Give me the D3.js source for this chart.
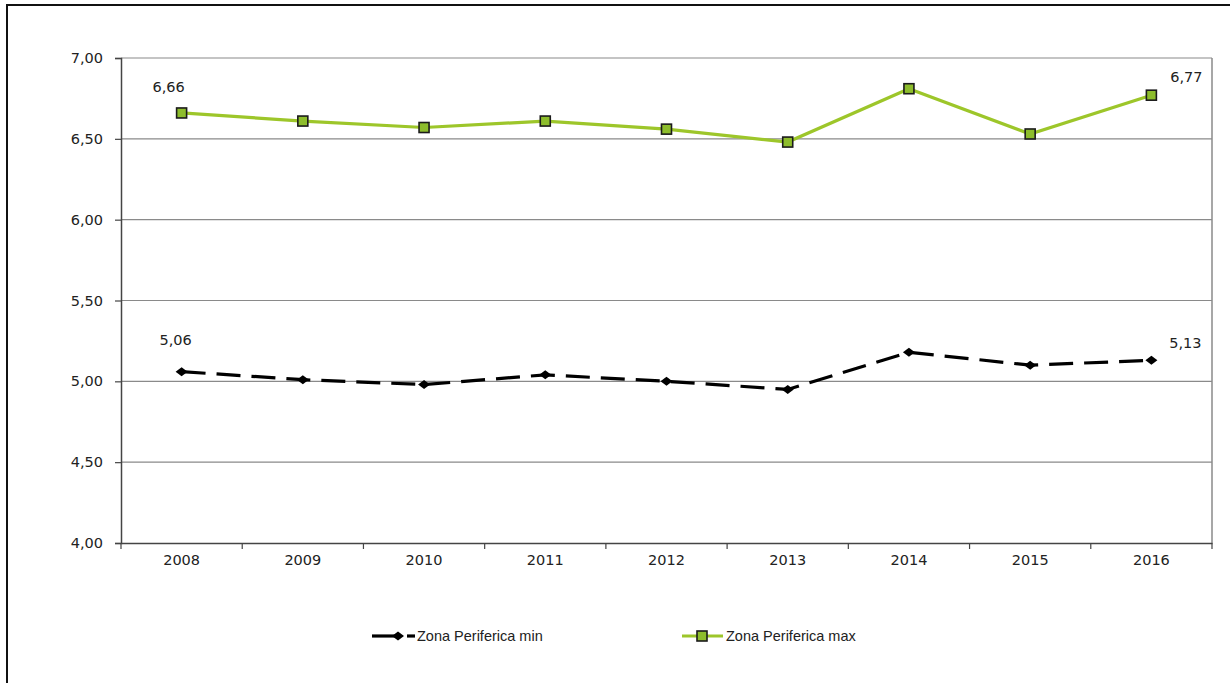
<!DOCTYPE html>
<html>
<head>
<meta charset="utf-8">
<script src="https://cdn.jsdelivr.net/npm/d3@7"></script>
<style>
  body { margin: 0; background: #fff; }
  svg { display: block; }
  .tick-label { font-family: "DejaVu Sans", Verdana, sans-serif; font-size: 14.5px; fill: #222; }
  .legend-text { font-family: "Liberation Sans", Arial, sans-serif; font-size: 14.5px; fill: #222; }
</style>
</head>
<body>
<svg id="chart" width="1230" height="683"></svg>
<script>
// chart data
const years = ["2008", "2009", "2010", "2011", "2012", "2013", "2014", "2015", "2016"];
const zonaMin = [5.06, 5.01, 4.98, 5.04, 5.00, 4.95, 5.18, 5.10, 5.13];
const zonaMax = [6.66, 6.61, 6.57, 6.61, 6.56, 6.48, 6.81, 6.53, 6.77];
const yTicks = [4.00, 4.50, 5.00, 5.50, 6.00, 6.50, 7.00];
const seriesNames = ["Zona Periferica min", "Zona Periferica max"];

const fmt = v => v.toFixed(2).replace(".", ",");

const svg = d3.select("#chart");
const plot = { left: 121, right: 1212, top: 58, bottom: 543 };

const x = d3.scaleBand().domain(years).range([plot.left, plot.right]);
const y = d3.scaleLinear().domain([4, 7]).range([plot.bottom, plot.top]);

// outer frame (runs off the right and bottom edges)
svg.append("rect")
  .attr("x", 7).attr("y", 5)
  .attr("width", 1260).attr("height", 720)
  .attr("fill", "none")
  .attr("stroke", "#111")
  .attr("stroke-width", 2);

// gridlines
svg.append("g")
  .selectAll("line")
  .data(yTicks.slice(1))
  .join("line")
  .attr("x1", plot.left).attr("x2", plot.right)
  .attr("y1", d => y(d)).attr("y2", d => y(d))
  .attr("stroke", "#8a8a8a")
  .attr("stroke-width", 1.2);

// right border of plot area
svg.append("line")
  .attr("x1", plot.right).attr("x2", plot.right)
  .attr("y1", plot.top).attr("y2", plot.bottom)
  .attr("stroke", "#8a8a8a")
  .attr("stroke-width", 1.5);

// y axis
const yAxis = svg.append("g")
  .attr("transform", `translate(${plot.left},0)`)
  .call(d3.axisLeft(y).tickValues(yTicks).tickFormat(fmt).tickSize(6).tickPadding(12));
yAxis.select(".domain").attr("stroke", "#444").attr("stroke-width", 1.5);
yAxis.selectAll(".tick line").attr("stroke", "#444").attr("stroke-width", 1.2);
yAxis.selectAll(".tick text").attr("class", "tick-label");

// x axis
const xAxis = svg.append("g")
  .attr("transform", `translate(0,${plot.bottom})`)
  .call(d3.axisBottom(x).tickSize(0).tickPadding(12));
xAxis.select(".domain").attr("stroke", "#444").attr("stroke-width", 1.5);
xAxis.selectAll(".tick text").attr("class", "tick-label");

// category boundary ticks
xAxis.append("g")
  .selectAll("line")
  .data(years)
  .join("line")
  .attr("x1", d => x(d) + x.bandwidth()).attr("x2", d => x(d) + x.bandwidth())
  .attr("y1", 0).attr("y2", 6)
  .attr("stroke", "#444")
  .attr("stroke-width", 1.2);
xAxis.append("line")
  .attr("x1", plot.left).attr("x2", plot.left)
  .attr("y1", 0).attr("y2", 6)
  .attr("stroke", "#444").attr("stroke-width", 1.2);

const cx = d => x(d) + x.bandwidth() / 2;
const line = d3.line().x(d => cx(d.year)).y(d => y(d.value));

const minData = years.map((yr, i) => ({ year: yr, value: zonaMin[i] }));
const maxData = years.map((yr, i) => ({ year: yr, value: zonaMax[i] }));

const green = "#9dc62a";
const greenFill = "#8dbd2c";

// max series
svg.append("path")
  .datum(maxData)
  .attr("d", line)
  .attr("fill", "none")
  .attr("stroke", green)
  .attr("stroke-width", 3.2);
svg.append("g")
  .selectAll("rect")
  .data(maxData)
  .join("rect")
  .attr("x", d => cx(d.year) - 5).attr("y", d => y(d.value) - 5)
  .attr("width", 10).attr("height", 10)
  .attr("fill", greenFill)
  .attr("stroke", "#1b1b1b")
  .attr("stroke-width", 1.6);

// min series
svg.append("path")
  .datum(minData)
  .attr("d", line)
  .attr("fill", "none")
  .attr("stroke", "#000")
  .attr("stroke-width", 3.2)
  .attr("stroke-dasharray", "24,11");
// squat diamond marker
const diamond = "M-6,0L0,-4.5L6,0L0,4.5Z";
svg.append("g")
  .selectAll("path")
  .data(minData)
  .join("path")
  .attr("transform", d => `translate(${cx(d.year)},${y(d.value)})`)
  .attr("d", diamond)
  .attr("fill", "#000");

// data labels for the first and last points
const labels = [
  { d: maxData[0], dx: -13, dy: -21 },
  { d: maxData[8], dx: 35, dy: -13 },
  { d: minData[0], dx: -6, dy: -27 },
  { d: minData[8], dx: 34, dy: -12 }
];
svg.append("g")
  .selectAll("text")
  .data(labels)
  .join("text")
  .attr("class", "tick-label")
  .attr("x", l => cx(l.d.year) + l.dx)
  .attr("y", l => y(l.d.value) + l.dy)
  .attr("text-anchor", "middle")
  .text(l => fmt(l.d.value));

// legend
const legendY = 636;
const lg = svg.append("g");
lg.append("line")
  .attr("x1", 372).attr("x2", 396).attr("y1", legendY).attr("y2", legendY)
  .attr("stroke", "#000").attr("stroke-width", 3.2);
lg.append("path")
  .attr("transform", `translate(398,${legendY})`)
  .attr("d", diamond).attr("fill", "#000");
lg.append("line")
  .attr("x1", 407).attr("x2", 415).attr("y1", legendY).attr("y2", legendY)
  .attr("stroke", "#000").attr("stroke-width", 3.2);
lg.append("text")
  .attr("class", "legend-text")
  .attr("x", 417).attr("y", legendY + 5)
  .text(seriesNames[0]);

lg.append("line")
  .attr("x1", 682).attr("x2", 723).attr("y1", legendY).attr("y2", legendY)
  .attr("stroke", green).attr("stroke-width", 3.2);
lg.append("rect")
  .attr("x", 697).attr("y", legendY - 5).attr("width", 10).attr("height", 10)
  .attr("fill", greenFill).attr("stroke", "#1b1b1b").attr("stroke-width", 1.6);
lg.append("text")
  .attr("class", "legend-text")
  .attr("x", 726).attr("y", legendY + 5)
  .text(seriesNames[1]);
</script>
</body>
</html>
